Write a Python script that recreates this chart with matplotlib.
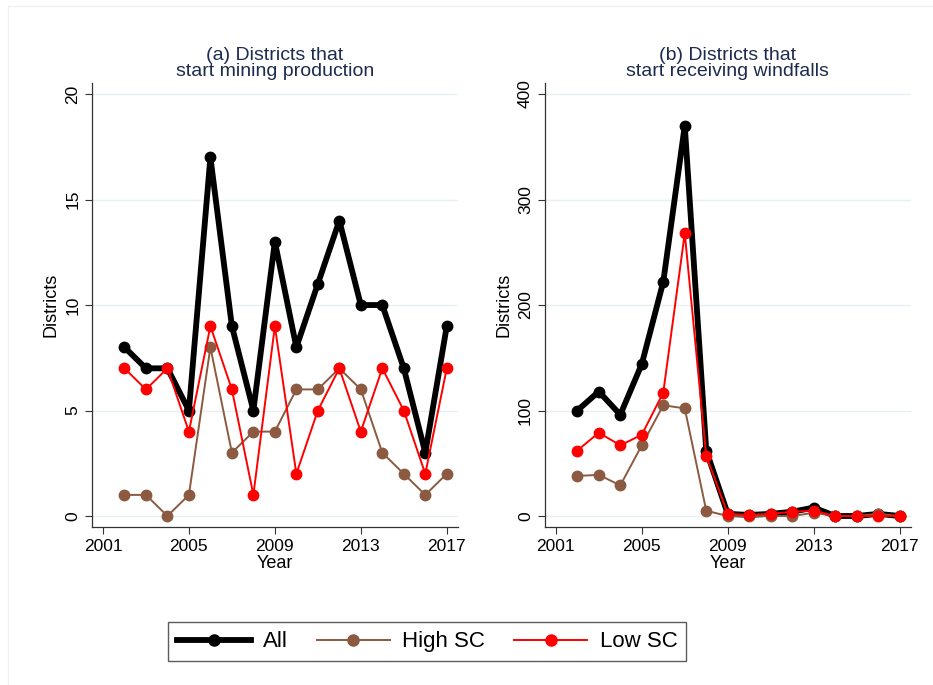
import numpy as np
import matplotlib
matplotlib.use("Agg")
import matplotlib.pyplot as plt
from matplotlib.lines import Line2D

plt.rcParams['font.family'] = ['Liberation Sans', 'DejaVu Sans']

years = np.arange(2002, 2018)

# (a) districts that start mining production
mine_all = [8, 7, 7, 5, 17, 9, 5, 13, 8, 11, 14, 10, 10, 7, 3, 9]
mine_high = [1, 1, 0, 1, 8, 3, 4, 4, 6, 6, 7, 6, 3, 2, 1, 2]
mine_low = [7, 6, 7, 4, 9, 6, 1, 9, 2, 5, 7, 4, 7, 5, 2, 7]

# (b) districts that start receiving windfalls
wind_all = [100, 118, 96, 144, 222, 370, 62, 2, 1, 2, 4, 8, 0, 0, 2, 0]
wind_high = [38, 39, 29, 67, 105, 102, 5, 0, 0, 0, 0, 3, 0, 0, 2, 0]
wind_low = [62, 79, 67, 77, 117, 268, 57, 2, 1, 2, 4, 5, 0, 0, 0, 0]

xticks = [2001, 2005, 2009, 2013, 2017]
titles = ["(a) Districts that\nstart mining production",
          "(b) Districts that\nstart receiving windfalls"]

black = "black"
brown = "#8b5a40"
red = "#ff0000"
navy = "#1c2b4f"
grid_col = "#e6eff2"

fig = plt.figure(figsize=(9.33, 6.85), dpi=100)
ax1 = fig.add_axes([0.0986, 0.2307, 0.392, 0.648])
ax2 = fig.add_axes([0.584, 0.2307, 0.392, 0.648])

# faint outer frame (top and left edges only, as in the original export)
fig.add_artist(Line2D([8 / 933, 1], [1 - 6 / 685] * 2, color='#f0f0f0', lw=1))
fig.add_artist(Line2D([8 / 933] * 2, [0, 1 - 6 / 685], color='#f0f0f0', lw=1))

panels = [
    (ax1, mine_all, mine_high, mine_low, [0, 5, 10, 15, 20], (-0.52, 20.52)),
    (ax2, wind_all, wind_high, wind_low, [0, 100, 200, 300, 400], (-10.4, 410.4)),
]

for i, (ax, a, h, l, yt, ylim) in enumerate(panels):
    ax.plot(years, a, color=black, lw=4.2, marker='o', ms=7.5, zorder=3)
    ax.plot(years, h, color=brown, lw=1.4, marker='o', ms=7.5, zorder=4)
    ax.plot(years, l, color=red, lw=1.4, marker='o', ms=7.5, zorder=5)
    ax.set_xlim(2000.49, 2017.51)
    ax.set_ylim(*ylim)
    ax.set_xticks(xticks)
    ax.set_yticks(yt)
    ax.set_yticklabels([str(v) for v in yt], rotation=90, va='center')
    ax.tick_params(labelsize=12.5, length=5, width=0.8, color='#333333')
    ax.grid(axis='y', color=grid_col, lw=1.0, zorder=0)
    for s in ['top', 'right']:
        ax.spines[s].set_visible(False)
    for s in ['left', 'bottom']:
        ax.spines[s].set_color('#333333')
        ax.spines[s].set_linewidth(0.9)
    ax.set_xlabel("Year", fontsize=13, labelpad=1)
    ax.set_ylabel("Districts", fontsize=13, labelpad=4)
    ax.set_title(titles[i], fontsize=14, color=navy, linespacing=0.95, pad=5)

handles = [
    Line2D([], [], color=black, lw=4.2, marker='o', ms=8),
    Line2D([], [], color=brown, lw=1.4, marker='o', ms=8),
    Line2D([], [], color=red, lw=1.4, marker='o', ms=8),
]
leg = fig.legend(handles, ["All", "High SC", "Low SC"], loc='center',
                 bbox_to_anchor=(0.458, 0.063), ncol=3, fontsize=16,
                 frameon=True, fancybox=False, edgecolor='#333333',
                 handlelength=3.3, handletextpad=0.55, columnspacing=1.3,
                 borderpad=0.4, borderaxespad=0)
leg.get_frame().set_linewidth(1.0)

fig.savefig("out.png", dpi=100, facecolor='white')
